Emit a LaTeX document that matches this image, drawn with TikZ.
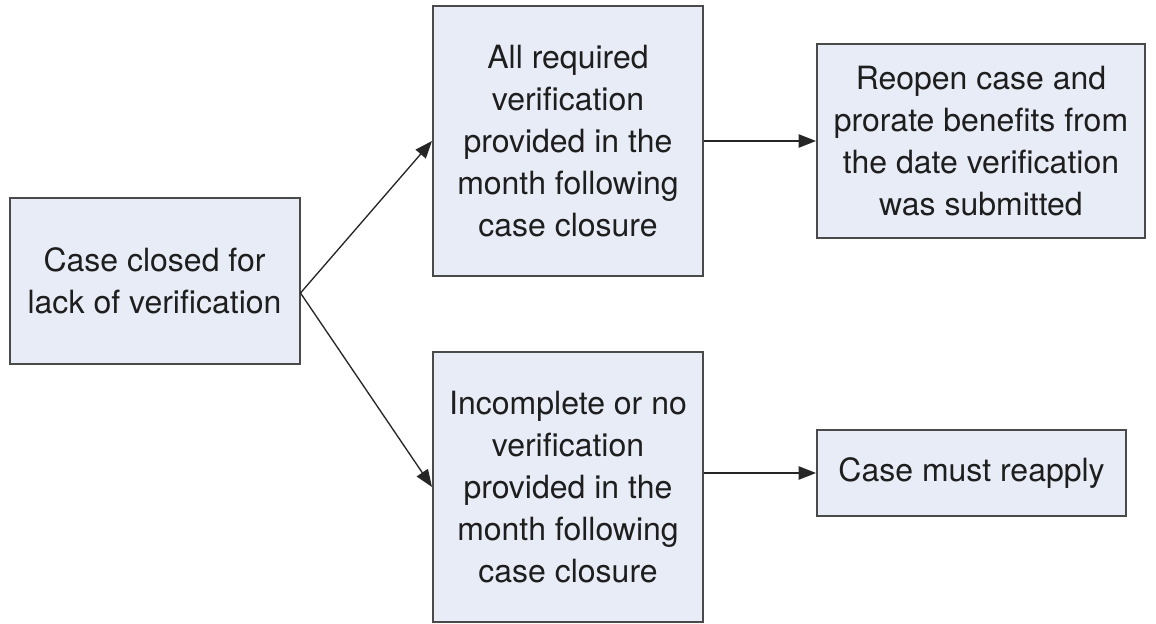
\documentclass[tikz,border=0pt]{standalone}
\usepackage{fontspec}
\setmainfont{TeX Gyre Heros}
\usetikzlibrary{arrows.meta,calc}
\definecolor{boxfill}{HTML}{E8ECF6}
\definecolor{boxline}{HTML}{4A4A4A}
\definecolor{txt}{HTML}{1E1E1E}
\begin{document}
\begin{tikzpicture}[x=0.75pt,y=-0.75pt,
  box/.style={draw=boxline,line width=1.5pt,fill=boxfill,inner sep=0pt,
    align=center,text=txt,font=\fontsize{24}{31.5}\selectfont},
  conn/.style={draw=black!85,line width=1pt,-{Triangle[length=13pt,width=10pt]}}]
\useasboundingbox (0,0) rectangle (1156,624);
\node[box,minimum width=290*0.75pt,minimum height=166*0.75pt] (A) at (154.5,281) {Case closed for\\lack of verification};
\node[box,minimum width=270*0.75pt,minimum height=270*0.75pt] (B) at (568,141) {All required\\verification\\provided in the\\month following\\case closure};
\node[box,minimum width=328*0.75pt,minimum height=194*0.75pt] (C) at (981,141) {Reopen case and\\prorate benefits from\\the date verification\\was submitted};
\node[box,minimum width=270*0.75pt,minimum height=270*0.75pt] (D) at (568,487) {Incomplete or no\\verification\\provided in the\\month following\\case closure};
\node[box,minimum width=309*0.75pt,minimum height=86*0.75pt] (E) at (971.5,473) {Case must reapply};
\coordinate (apex) at ($(A.east)+(0,12)$);
\draw[conn] (apex) -- (B.west);
\draw[conn] (apex) -- (D.west);
\draw[conn] (B.east) -- (C.west);
\draw[conn] (D.east |- E.west) -- (E.west);
\end{tikzpicture}
\end{document}
